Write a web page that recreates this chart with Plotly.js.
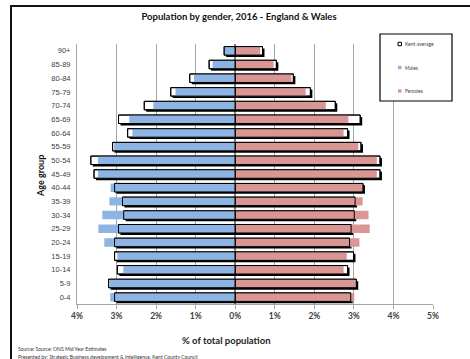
<!DOCTYPE html>
<html>
<head>
<meta charset="utf-8">
<script src="https://cdn.plot.ly/plotly-3.0.1.min.js"></script>
<style>
  html, body { margin: 0; padding: 0; background: #fff; }
  #wrap { position: relative; width: 470px; height: 359px; overflow: hidden; }
  #chart { position: absolute; left: 0; top: 0; width: 470px; height: 359px; }
  #frame { position: absolute; left: 10px; top: 5px; width: 520px; height: 400px;
           border-left: 2px solid #111; border-top: 2px solid #111; pointer-events: none; }
</style>
</head>
<body>
<div id="wrap">
  <div id="chart"></div>
  <div id="frame"></div>
</div>
<script>
// Age bands, youngest at the bottom of the pyramid
const ageGroups = ["0-4","5-9","10-14","15-19","20-24","25-29","30-34","35-39","40-44",
                   "45-49","50-54","55-59","60-64","65-69","70-74","75-79","80-84","85-89","90+"];

// England & Wales, % of total population
const males   = [3.16, 3.17, 2.83, 2.98, 3.31, 3.46, 3.36, 3.18, 3.15,
                 3.47, 3.47, 3.06, 2.60, 2.68, 2.07, 1.51, 1.04, 0.57, 0.26];
const females = [3.01, 3.03, 2.74, 2.82, 3.14, 3.40, 3.37, 3.22, 3.21,
                 3.58, 3.58, 3.11, 2.74, 2.86, 2.29, 1.78, 1.42, 0.97, 0.63];

// Kent average, % of total population
const kentMales   = [3.05, 3.20, 2.98, 3.05, 3.05, 2.95, 2.82, 2.85, 3.05,
                     3.57, 3.65, 3.10, 2.72, 2.95, 2.30, 1.63, 1.15, 0.66, 0.28];
const kentFemales = [2.92, 3.06, 2.84, 2.99, 2.89, 2.93, 3.01, 3.03, 3.23,
                     3.66, 3.66, 3.18, 2.84, 3.16, 2.53, 1.90, 1.47, 1.04, 0.69];

// Axis ticks (males plotted to the left of zero)
const xTickVals = [-4, -3, -2, -1, 0, 1, 2, 3, 4, 5];
const xTickText = ["4%", "3%", "2%", "1%", "0%", "1%", "2%", "3%", "4%", "5%"];

const legendLabels = ["Kent average", "Males", "Females"];

const W = 470, H = 359;
const M = { l: 77, r: 37, t: 44, b: 55 };
const PW = W - M.l - M.r, PH = H - M.t - M.b;
const px = x => (x - M.l) / PW;
const py = y => (H - M.b - y) / PH;

const FONT = "Lato, 'Liberation Sans', Arial, sans-serif";
const BLUE = "#8EB4E3", PINK = "#D99694";
const BAR_W = 0.62;
const SHADOW_DX = 0.05;   // drop shadow, in % units
const SHADOW_DY = 0.14;   // drop shadow, in category units

const neg = a => a.map(v => -v);

function bar(x, opts) {
  return Object.assign({
    type: "bar", orientation: "h", y: ageGroups, x: x,
    width: BAR_W, offset: -BAR_W / 2,
    hoverinfo: "skip", showlegend: false
  }, opts);
}

const traces = [
  // shadows behind the Kent bars
  bar(neg(kentMales), { base: SHADOW_DX, offset: -BAR_W / 2 - SHADOW_DY,
      marker: { color: "#000", line: { width: 0 } } }),
  bar(kentFemales, { base: SHADOW_DX, offset: -BAR_W / 2 - SHADOW_DY,
      marker: { color: "#000", line: { width: 0 } } }),
  // Kent average, white filled
  bar(neg(kentMales), { name: "Kent average", marker: { color: "#fff", line: { color: "#000", width: 1 } } }),
  bar(kentFemales, { name: "Kent average", marker: { color: "#fff", line: { color: "#000", width: 1 } } }),
  // England & Wales
  bar(neg(males), { name: "Males", marker: { color: BLUE, line: { width: 0 } } }),
  bar(females, { name: "Females", marker: { color: PINK, line: { width: 0 } } }),
  // Kent outline on top
  bar(neg(kentMales), { marker: { color: "rgba(0,0,0,0)", line: { color: "#000", width: 1 } } }),
  bar(kentFemales, { marker: { color: "rgba(0,0,0,0)", line: { color: "#000", width: 1 } } })
];

// Legend drawn as a boxed key
const legendBox = { x0: 380, y0: 34, x1: 452, y1: 101 };
const legendRows = [44, 67.5, 91];
const legendFills = ["#fff", BLUE, PINK];
const legendLines = ["#000", BLUE, PINK];

const shapes = [{
  type: "rect", xref: "paper", yref: "paper", layer: "above",
  x0: px(legendBox.x0), x1: px(legendBox.x1), y0: py(legendBox.y0), y1: py(legendBox.y1),
  fillcolor: "#fff", line: { color: "#000", width: 1.2 }
}];
const annotations = [];
legendLabels.forEach((lab, i) => {
  const yc = legendRows[i];
  shapes.push({
    type: "rect", xref: "paper", yref: "paper", layer: "above",
    x0: px(398), x1: px(401.5), y0: py(yc - 1.7), y1: py(yc + 1.7),
    fillcolor: legendFills[i], line: { color: legendLines[i], width: i === 0 ? 1 : 0 }
  });
  annotations.push({
    xref: "paper", yref: "paper", x: px(403), y: py(yc), xanchor: "left", yanchor: "middle",
    text: lab, showarrow: false, font: { family: FONT, size: 5, color: "#404040" }
  });
});

// Axis titles
annotations.push({
  xref: "paper", yref: "paper", x: px(226), y: py(340), xanchor: "center", yanchor: "middle",
  text: "% of total population", showarrow: false,
  font: { family: FONT, size: 9.5, color: "#222", weight: 700 }
});
annotations.push({
  xref: "paper", yref: "paper", x: px(40), y: py(176), xanchor: "center", yanchor: "middle",
  text: "Age group", textangle: -90, showarrow: false,
  font: { family: FONT, size: 9, color: "#111", weight: 700 }
});

// Footnotes
annotations.push({
  xref: "paper", yref: "paper", x: px(16), y: py(349), xanchor: "left", yanchor: "middle",
  text: "Source: Source: ONS Mid Year Estimates", showarrow: false,
  font: { family: FONT, size: 5, color: "#333" }
});
annotations.push({
  xref: "paper", yref: "paper", x: px(16), y: py(357), xanchor: "left", yanchor: "middle",
  text: "Presented by: Strategic Business development &amp; Intelligence, Kent County Council", showarrow: false,
  font: { family: FONT, size: 5, color: "#333" }
});

const layout = {
  width: W, height: H,
  margin: M,
  paper_bgcolor: "#fff", plot_bgcolor: "#fff",
  barmode: "overlay",
  showlegend: false,
  title: {
    text: "Population by gender, 2016 - England &amp; Wales",
    xref: "container", yref: "container",
    x: 239 / W, xanchor: "center", y: 1 - 17 / H, yanchor: "middle",
    font: { family: FONT, size: 9.5, color: "#111", weight: 700 }
  },
  xaxis: {
    range: [-4, 5], tickvals: xTickVals, ticktext: xTickText,
    showgrid: true, gridcolor: "#a6a6a6", gridwidth: 1,
    zeroline: true, zerolinecolor: "#7f7f7f", zerolinewidth: 1.6,
    showline: true, linecolor: "#a6a6a6", linewidth: 1,
    ticks: "outside", ticklen: 4, tickcolor: "#a6a6a6",
    tickfont: { family: FONT, size: 8.5, color: "#404040", weight: 700 },
    fixedrange: true
  },
  yaxis: {
    type: "category", categoryorder: "array", categoryarray: ageGroups,
    showgrid: false, zeroline: false,
    showline: true, linecolor: "#a6a6a6", linewidth: 1,
    ticks: "", ticklabelstandoff: 4,
    tickfont: { family: "'Liberation Sans', Arial, sans-serif", size: 7.5, color: "#404040" },
    fixedrange: true
  },
  shapes: shapes,
  annotations: annotations
};

Plotly.newPlot("chart", traces, layout, { staticPlot: true, displayModeBar: false });
</script>
</body>
</html>
